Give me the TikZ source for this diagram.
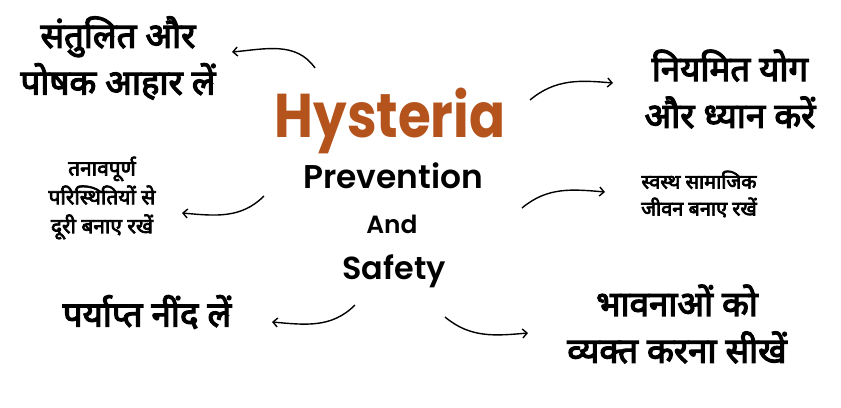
\documentclass[tikz,border=0pt]{standalone}
\usepackage{fontspec}
\usepackage{graphicx}
\setmainfont{Poppins}
\newfontfamily\popsemi{Poppins SemiBold}
\newfontfamily\deva[Script=Devanagari,FakeBold=3.5]{Noto Sans}
\usetikzlibrary{arrows.meta}
\definecolor{hystbrown}{HTML}{B4531C}
\tikzset{
  tipbig/.style={font=\deva\fontsize{35}{47}\selectfont,align=center,inner sep=0pt},
  tipsmall/.style={font=\deva\fontsize{21}{29}\selectfont,align=center,inner sep=0pt},
  curvy/.style={line width=1.4pt,-{Straight Barb[length=4.5pt,width=9pt]}},
}
\begin{document}
\begin{tikzpicture}[x=1bp,y=1bp]
\useasboundingbox (0,0) rectangle (841,407);
% centre block
\node[font=\bfseries\fontsize{62}{62}\selectfont,text=hystbrown,anchor=base] (hyst) at (390,270) {\scalebox{0.86}[1]{Hysteria}};
\node[font=\popsemi\fontsize{33}{33}\selectfont,anchor=base] (prev) at (393,219) {Prevention};
\node[font=\popsemi\fontsize{25}{25}\selectfont,anchor=base] (and) at (392,174) {And};
\node[font=\popsemi\fontsize{32}{32}\selectfont,anchor=base] (safe) at (394,128) {Safety};
% tips
\node[tipbig] (diet) at (118,349) {संतुलित और\\पोषक आहार लें};
\node[tipbig] (yoga) at (730,318) {नियमित योग\\और ध्यान करें};
\node[tipsmall] (stress) at (102,209) {तनावपूर्ण\\परिस्थितियों से\\दूरी बनाए रखें};
\node[tipsmall,font=\deva\fontsize{20}{27}\selectfont] (social) at (699,213) {स्वस्थ सामाजिक\\जीवन बनाए रखें};
\node[tipbig] (sleep) at (147,95) {पर्याप्त नींद लें};
\node[tipbig] (feel) at (677,83) {भावनाओं को\\व्यक्त करना सीखें};
% arrow ends
\coordinate (a1s) at (315,339);
\coordinate (a1e) at (232,355);
\coordinate (a2s) at (530,307);
\coordinate (a2e) at (613,324);
\coordinate (a3s) at (264,211);
\coordinate (a3e) at (182,194);
\coordinate (a4s) at (522,199);
\coordinate (a4e) at (605,215);
\coordinate (a5s) at (355,102);
\coordinate (a5e) at (272,85);
\coordinate (a6s) at (445,90);
\coordinate (a6e) at (528,74);
\draw[curvy] (a1s) to[out=125,in=5] (a1e);
\draw[curvy] (a2s) to[out=40,in=175] (a2e);
\draw[curvy] (a3s) to[out=-135,in=-5] (a3e);
\draw[curvy] (a4s) to[out=40,in=175] (a4e);
\draw[curvy] (a5s) to[out=-135,in=-5] (a5e);
\draw[curvy] (a6s) to[out=-40,in=185] (a6e);
\end{tikzpicture}
\end{document}
